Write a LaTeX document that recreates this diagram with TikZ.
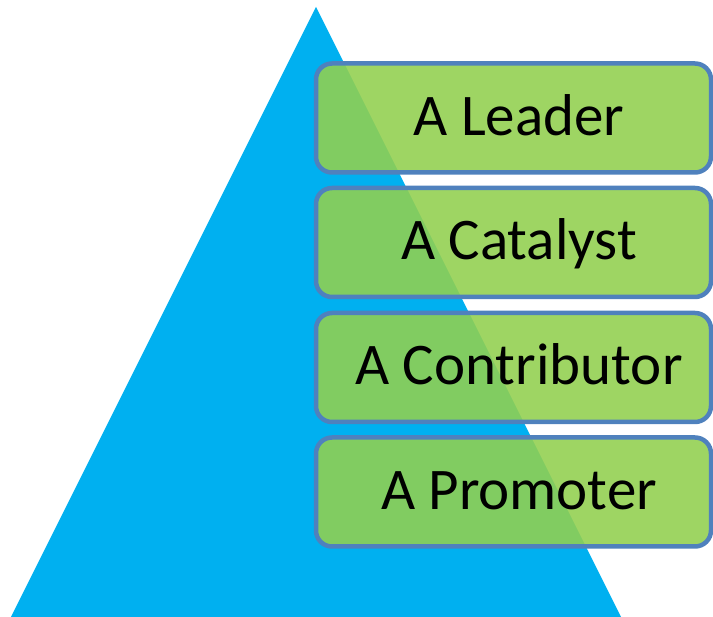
\documentclass[tikz,border=0pt]{standalone}
\usepackage{fontspec}
\setmainfont{Carlito}
\definecolor{triblue}{HTML}{00B0F0}
\definecolor{boxgreen}{HTML}{92D050}
\definecolor{boxline}{HTML}{4F81BD}
\begin{document}
\begin{tikzpicture}[x=1pt,y=-1pt,
  tier/.style={draw=boxline, line width=4.5pt, fill=boxgreen, fill opacity=0.89,
    rounded corners=16pt, minimum width=395pt, minimum height=109pt, inner sep=0pt},
  tiertext/.style={font=\fontsize{59}{60}\selectfont, anchor=base, inner sep=0pt}]
\useasboundingbox (0,0) rectangle (713,617);
\fill[triblue] (316,7) -- (621,617) -- (11,617) -- cycle;
\node[tier] (b1) at (513.5,118) {};
\node[tier] (b2) at (513.5,242.5) {};
\node[tier] (b3) at (513.5,367.5) {};
\node[tier] (b4) at (513.5,492) {};
\node[tiertext] (t1) at (519,135.5) {A Leader};
\node[tiertext] (t2) at (519,260) {A Catalyst};
\node[tiertext] (t3) at (519,385) {A Contributor};
\node[tiertext] (t4) at (519,509.5) {A Promoter};
\end{tikzpicture}
\end{document}
